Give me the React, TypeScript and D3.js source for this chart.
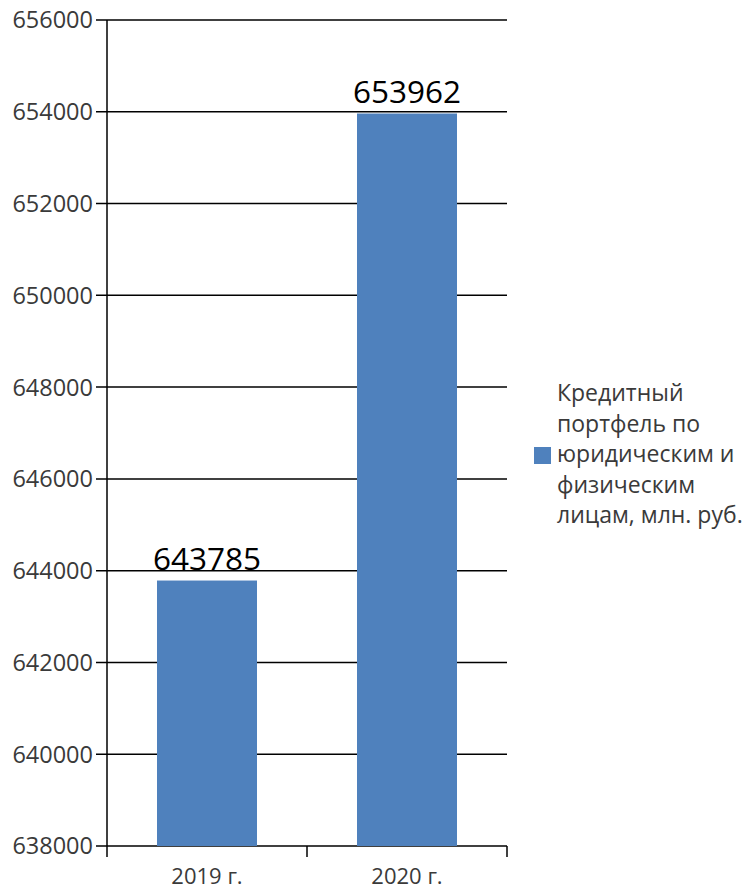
import React from "react";
import * as d3 from "d3";

const categories = ["2019 г.", "2020 г."];
const values = [643785, 653962];
const yTicks = [638000, 640000, 642000, 644000, 646000, 648000, 650000, 652000, 654000, 656000];
const legendLines = ["Кредитный", "портфель по", "юридическим и", "физическим", "лицам, млн. руб."];

export default function App() {
  const W = 751, H = 889;
  const left = 107, right = 507, top = 20, bottom = 846;
  const x = d3.scaleBand<string>().domain(categories).range([left, right]).paddingInner(0.5).paddingOuter(0.25);
  const y = d3.scaleLinear().domain([638000, 656000]).range([bottom, top]);
  const font = "'Open Sans', sans-serif";
  const step = x.step();
  return (
    <svg width={W} height={H} style={{ position: "absolute", left: 0, top: 0 }}>
      <rect width={W} height={H} fill="#fff" />
      {yTicks.map((t) => (
        <g key={t}>
          <line x1={left - 11} x2={right} y1={y(t)} y2={y(t)} stroke="#000" strokeWidth={1.5} />
          <text x={left - 14} y={y(t)} dy="0.36em" textAnchor="end" fontFamily={font} fontSize={23.5} fill="#3a3a3a">{t}</text>
        </g>
      ))}
      {categories.map((c, i) => (
        <g key={c}>
          <rect x={x(c)!} y={y(values[i])} width={x.bandwidth()} height={bottom - y(values[i])} fill="#4f81bd" />
          <text x={x(c)! + x.bandwidth() / 2} y={y(values[i]) - 11} textAnchor="middle" fontFamily={font} fontSize={31.5} fill="#000">{values[i]}</text>
          <text x={x(c)! + x.bandwidth() / 2} y={884} textAnchor="middle" fontFamily={font} fontSize={22} fill="#3a3a3a">{c}</text>
        </g>
      ))}
      <line x1={left} x2={left} y1={top} y2={bottom} stroke="#000" strokeWidth={1.5} />
      {[0, 1, 2].map((k) => (
        <line key={k} x1={left + k * step} x2={left + k * step} y1={bottom} y2={bottom + 11} stroke="#000" strokeWidth={1.5} />
      ))}
      <rect x={534} y={447} width={17} height={17} fill="#4f81bd" />
      {legendLines.map((l, i) => (
        <text key={i} x={557} y={401 + i * 30.5} fontFamily={font} fontSize={23} fill="#3a3a3a">{l}</text>
      ))}
    </svg>
  );
}
